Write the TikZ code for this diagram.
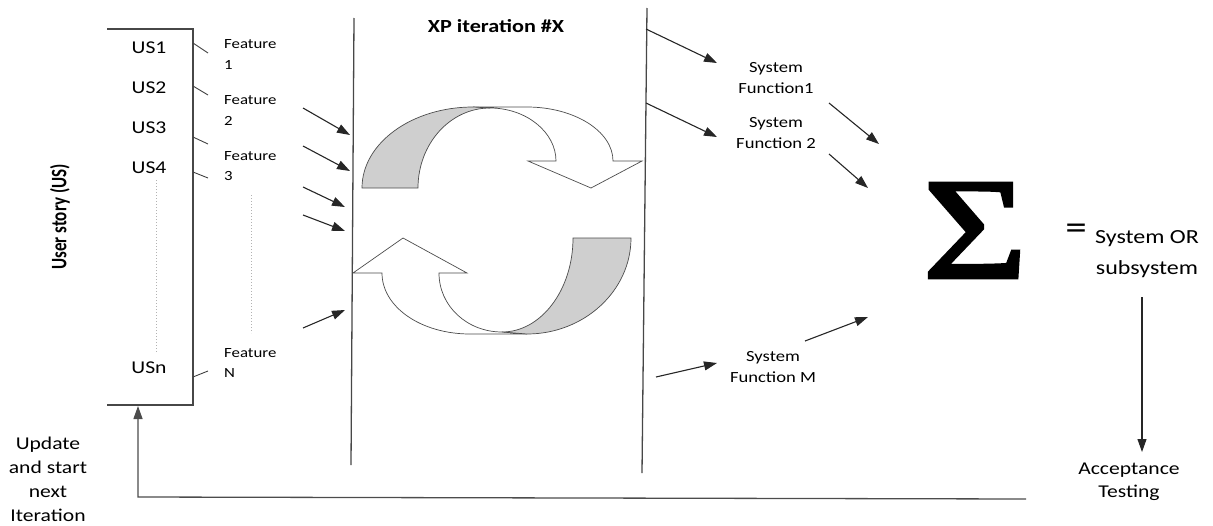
\documentclass[tikz,border=0pt]{standalone}
\usepackage{fontspec}
\setmainfont{Carlito}[FakeStretch=1.2]
\newfontfamily\rotfont{Carlito}
\newfontfamily\sigfont{Liberation Serif}[FakeStretch=1.25, FakeBold=2.5]
\usetikzlibrary{arrows.meta}
\begin{document}
\begin{tikzpicture}[x=1pt,y=-1pt,
  txt/.style={inner sep=0pt, text=black},
  lbl/.style={txt, font=\fontsize{18}{22}\selectfont},
  feat/.style={txt, anchor=west, align=left, font=\fontsize{14}{20.5}\selectfont},
  sysf/.style={txt, align=center, font=\fontsize{15.5}{21}\selectfont},
  arr/.style={draw=black!85, line width=1.1pt, -{Triangle[length=13pt,width=9pt]}},
  tick/.style={draw=black!75, line width=0.9pt},
  border/.style={draw=black!72, line width=1.3pt},
  dotln/.style={draw=black!30, line width=1pt, dotted},
  ribbon/.style={draw=black!70, line width=0.7pt, line join=miter},
  shade/.style={ribbon, fill=black!19},
  blank/.style={ribbon, fill=white},
]
\useasboundingbox (0,0) rectangle (1213,525);

% ---- user story box ----
\draw[border] (107,29) -- (193,29) -- (193,405) -- (107,405);
\node[lbl] (us1) at (149,47.5) {US1};
\node[lbl] (us2) at (149,87.5) {US2};
\node[lbl] (us3) at (149,127.5) {US3};
\node[lbl] (us4) at (149,167.5) {US4};
\node[lbl] (usn) at (149,367.5) {USn};
\draw[dotln] (156,180) -- (156,353);
\node[txt, rotate=90, font=\rotfont\bfseries\fontsize{17}{20}\selectfont] (ustitle) at (60,217) {\scalebox{1}[1.3]{User story (US)}};

% ---- features ----
\node[feat] (f1) at (224,54.5) {Feature\\1};
\node[feat] (f2) at (224,110.5) {Feature\\2};
\node[feat] (f3) at (224,166) {Feature\\3};
\node[feat] (fn) at (224,363) {Feature\\N};
\draw[dotln] (251,195) -- (251,333);

\coordinate (t1a) at (193,43);  \coordinate (t1b) at (208,53);
\coordinate (t2a) at (193,86);  \coordinate (t2b) at (208,95);
\coordinate (t3a) at (193,137); \coordinate (t3b) at (208,144);
\coordinate (t4a) at (193,172); \coordinate (t4b) at (208,178);
\coordinate (tna) at (193,377); \coordinate (tnb) at (208,371);
\draw[tick] (t1a) -- (t1b);
\draw[tick] (t2a) -- (t2b);
\draw[tick] (t3a) -- (t3b);
\draw[tick] (t4a) -- (t4b);
\draw[tick] (tna) -- (tnb);

% ---- iteration boundaries ----
\draw[border] (354,18) -- (351,465);
\draw[border] (647,8) -- (642,473);
\node[txt, font=\bfseries\fontsize{18.5}{22}\selectfont] (title) at (496,26) {XP iteration \#X};

% arrows into the iteration
\coordinate (i1a) at (303,108); \coordinate (i1b) at (350,135);
\coordinate (i2a) at (303,146); \coordinate (i2b) at (350,171);
\coordinate (i3a) at (303,187); \coordinate (i3b) at (345,207);
\coordinate (i4a) at (303,215); \coordinate (i4b) at (345,231);
\coordinate (i5a) at (303,328); \coordinate (i5b) at (345,310);
\draw[arr] (i1a) -- (i1b);
\draw[arr] (i2a) -- (i2b);
\draw[arr] (i3a) -- (i3b);
\draw[arr] (i4a) -- (i4b);
\draw[arr] (i5a) -- (i5b);

% ---- circular arrows ----
% upper
\draw[blank] (473,107) -- (527,107) .. controls (574,107) and (613,131) .. (613,161)
  -- (642,161) -- (591,188) -- (528,161) -- (556,161)
  .. controls (556,132) and (526,108) .. (490,108) -- cycle;
\draw[shade] (362,188) .. controls (362,143) and (412,107) .. (473,107) -- (490,108)
  .. controls (450,108) and (418,144) .. (418,188) -- cycle;
% lower
\draw[blank] (527,334) -- (470,334) .. controls (421,334) and (382,307) .. (382,273)
  -- (353,273) -- (403,238) -- (467,273) -- (439,273)
  .. controls (439,306) and (467,332) .. (502,332) -- cycle;
\draw[shade] (631,238) .. controls (631,291) and (584,334) .. (527,334) -- (502,332)
  .. controls (541,332) and (573,290) .. (573,238) -- cycle;

% ---- system functions ----
\node[sysf] (sf1) at (776,78.5) {System\\Function1};
\node[sysf] (sf2) at (776,133.5) {System\\Function 2};
\node[sysf] (sfm) at (773,367) {System\\Function M};

\coordinate (o1a) at (646,29);  \coordinate (o1b) at (717,63);
\coordinate (o2a) at (646,103); \coordinate (o2b) at (717,137);
\coordinate (o3a) at (656,377); \coordinate (o3b) at (717,363);
\draw[arr] (o1a) -- (o1b);
\draw[arr] (o2a) -- (o2b);
\draw[arr] (o3a) -- (o3b);

\coordinate (s1a) at (829,103); \coordinate (s1b) at (879,144);
\coordinate (s2a) at (829,154); \coordinate (s2b) at (868,188);
\coordinate (s3a) at (805,341); \coordinate (s3b) at (868,317);
\draw[arr] (s1a) -- (s1b);
\draw[arr] (s2a) -- (s2b);
\draw[arr] (s3a) -- (s3b);

% ---- sum ----
\node[txt, font=\sigfont\fontsize{144}{150}\selectfont] (sigma) at (975,230.5) {Σ};
\node[txt, font=\fontsize{36}{38}\selectfont] (eq) at (1076,232) {=};
\node[txt, align=center, font=\fontsize{20}{31}\selectfont] (sysor) at (1147,254) {System OR\\subsystem};

% ---- acceptance ----
\node[lbl, align=center, anchor=north, font=\fontsize{18}{23}\selectfont] (acc) at (1129,463) {Acceptance\\Testing};
\coordinate (accTop) at (1142,297);
\coordinate (accTip) at (1142,452);
\draw[arr] (accTop) -- (accTip);

% ---- feedback ----
\node[lbl, align=center, anchor=north, font=\fontsize{18}{24}\selectfont] (upd) at (48,437) {Update\\and start\\next\\Iteration};
\coordinate (fbR) at (1026,499);
\coordinate (fbL) at (138,497);
\coordinate (boxB) at (138,406);
\draw[arr, draw=black!70, line width=1.3pt] (fbR) -- (fbL) -- (boxB);
\end{tikzpicture}
\end{document}
